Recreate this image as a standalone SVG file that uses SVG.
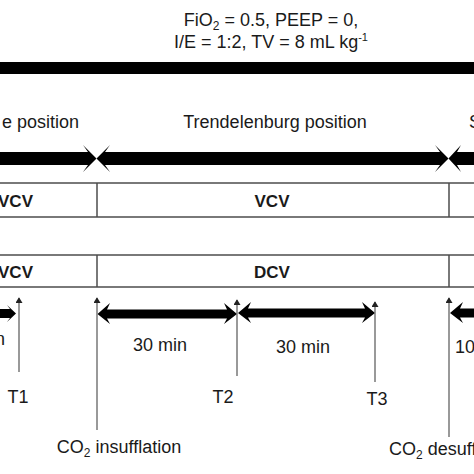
<svg xmlns="http://www.w3.org/2000/svg" width="474" height="474" viewBox="0 0 474 474">
<defs>
<style>
text{font-family:"Liberation Sans",Arial,sans-serif;font-size:18px;fill:#1a1a1a}
.b{font-weight:bold;font-size:17px}
.m{text-anchor:middle}
.tl{stroke:#4d4d4d;stroke-width:1.5;fill:none}
.thin{stroke:#555;stroke-width:1.2;fill:none;marker-end:url(#ah)}
.thick{fill:#000}
</style>
<marker id="ah" viewBox="0 0 8 10" refX="7" refY="5" markerWidth="6" markerHeight="7" markerUnits="userSpaceOnUse" orient="auto">
<path d="M0,0 L8,5 L0,10 Z" fill="#222"/>
</marker>
</defs>
<rect width="474" height="474" fill="#fff"/>

<g id="title">
<text class="m" x="271" y="26">FiO<tspan font-size="12" dy="4">2</tspan><tspan dy="-4"> = 0.5, PEEP = 0,</tspan></text>
<text class="m" x="271" y="48">I/E = 1:2, TV = 8 mL kg<tspan font-size="11" dy="-7">-1</tspan></text>
</g>
<g id="bar"><rect x="0" y="62" width="474" height="12" fill="#000"/></g>

<g id="positions">
<text x="79" y="128" text-anchor="end">e position</text>
<text class="m" x="275" y="128">Trendelenburg position</text>
<text x="469" y="128">S</text>
</g>

<g id="table">
<line class="tl" x1="0" y1="183" x2="474" y2="183"/>
<line class="tl" x1="0" y1="217" x2="474" y2="217"/>
<line class="tl" x1="0" y1="255" x2="474" y2="255"/>
<line class="tl" x1="0" y1="287" x2="474" y2="287"/>
<line class="tl" x1="97" y1="183" x2="97" y2="217"/>
<line class="tl" x1="449" y1="183" x2="449" y2="217"/>
<line class="tl" x1="97" y1="255" x2="97" y2="287"/>
<line class="tl" x1="449" y1="255" x2="449" y2="287"/>
</g>
<g id="row1"><text class="b" x="33" y="207" text-anchor="end">VCV</text><text class="b m" x="272" y="207">VCV</text></g>
<g id="row2"><text class="b" x="33" y="278" text-anchor="end">VCV</text><text class="b m" x="272" y="278">DCV</text></g>

<g id="connectors">
<polygon class="thick" points="0,152 88,152 83,145 96.5,158.5 83,172 88,165 0,165"/>
<polygon class="thick" points="96.5,158.5 110,145 105,152 440,152 435,145 448.5,158.5 435,172 440,165 105,165 110,172"/>
<polygon class="thick" points="448.5,158.5 461,145 457,152 474,152 474,165 457,165 461,172"/>

<polygon class="thick" points="0,309 10,309 7,305 16,313.5 7,322 10,318 0,318"/>
<polygon class="thick" points="97.5,314 110,303 107,309.5 227,309.5 224,303 237,314 224,324 227,318.5 107,318.5 110,324"/>
<polygon class="thick" points="238,313 251,302 248,308.5 365,308.5 362,302 375,313 362,323 365,317.5 248,317.5 251,323"/>
<polygon class="thick" points="450,313 463,302 460,308.5 474,308.5 474,317.5 460,317.5 463,323"/>

<line class="thin" x1="19" y1="372" x2="19" y2="298"/>
<line class="thin" x1="97" y1="430" x2="97" y2="298"/>
<line class="thin" x1="237" y1="376" x2="237" y2="300"/>
<line class="thin" x1="375" y1="382" x2="375" y2="302"/>
<line class="thin" x1="449" y1="437" x2="449" y2="298"/>
</g>

<g id="durations">
<text x="5" y="345" text-anchor="end">n</text>
<text class="m" x="160" y="351">30 min</text>
<text class="m" x="303" y="353">30 min</text>
<text x="455" y="353">10</text>
</g>
<g id="timepoints">
<text class="m" x="18" y="403">T1</text>
<text class="m" x="223" y="403">T2</text>
<text class="m" x="377" y="405">T3</text>
</g>
<g id="events">
<text class="m" x="119" y="453">CO<tspan font-size="12" dy="4">2</tspan><tspan dy="-4"> insufflation</tspan></text>
<text x="389" y="455">CO<tspan font-size="12" dy="4">2</tspan><tspan dy="-4"> desuff</tspan></text>
</g>
</svg>
